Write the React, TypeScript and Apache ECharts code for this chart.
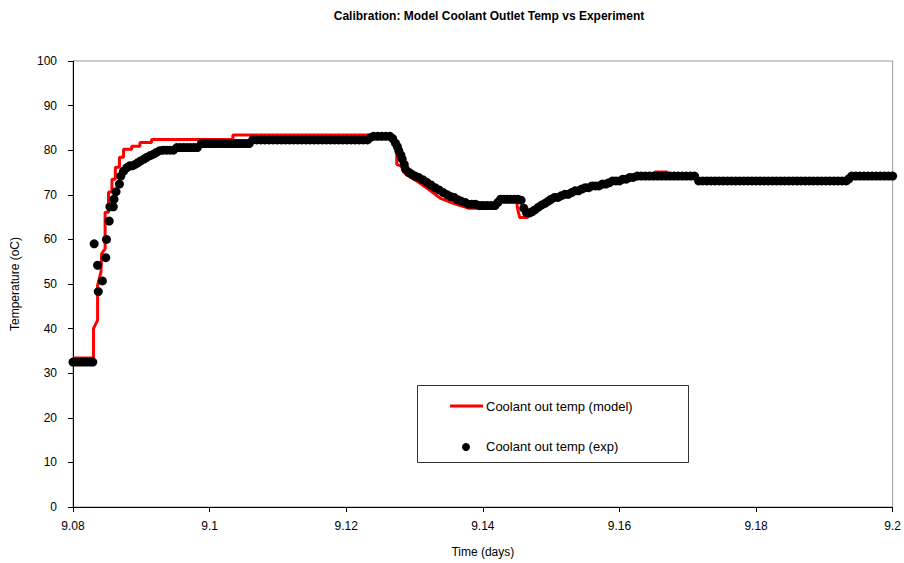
import React, { useEffect, useRef } from "react";
import * as echarts from "echarts";

const TITLE = "Calibration: Model Coolant Outlet Temp vs Experiment";
const X_NAME = "Time (days)";
const Y_NAME = "Temperature (oC)";
const MODEL_NAME = "Coolant out temp (model)";
const EXP_NAME = "Coolant out temp (exp)";

const X_MIN = 9.08;
const X_MAX = 9.2;
const X_STEP = 0.02;
const Y_MIN = 0;
const Y_MAX = 100;
const Y_STEP = 10;

// Model: stepped red line (time in days, temperature in °C)
const modelData: [number, number][] = [
  [9.08, 33.4], [9.083, 33.4], [9.083, 40.0], [9.0836, 41.9], [9.0836, 49.7],
  [9.0841, 52.7], [9.0842, 56.8], [9.0847, 57.9], [9.0847, 66.1], [9.0852, 66.1],
  [9.0852, 70.6], [9.0857, 70.6], [9.0857, 73.5], [9.0862, 73.5], [9.0862, 76.2],
  [9.0868, 76.2], [9.0868, 78.4], [9.0874, 78.4], [9.0874, 80.2], [9.0886, 80.2],
  [9.0886, 80.9], [9.0898, 80.9], [9.0898, 81.7], [9.0915, 81.7], [9.0915, 82.4],
  [9.1034, 82.4], [9.1034, 83.4], [9.1252, 83.4], [9.1262, 83.0], [9.127, 81.3],
  [9.1274, 80.2], [9.1274, 76.8], [9.128, 76.5], [9.1287, 74.6], [9.1306, 72.8],
  [9.1321, 71.2], [9.1338, 69.2], [9.136, 67.9], [9.1379, 67.0], [9.1418, 67.0],
  [9.1423, 69.0], [9.1449, 69.0], [9.1451, 66.8], [9.1454, 64.9], [9.1465, 64.9],
  [9.1471, 66.1], [9.149, 67.9], [9.1515, 69.4], [9.1539, 70.5], [9.1558, 71.6],
  [9.1597, 73.1], [9.1626, 74.2], [9.165, 74.2], [9.1652, 75.1], [9.167, 75.1],
  [9.1672, 74.2], [9.1714, 74.2], [9.1716, 73.1], [9.1937, 73.1], [9.1939, 74.2],
  [9.2, 74.2],
];

// Experiment: measured points (time in days, temperature in °C)
const expData: [number, number][] = [
  [9.08, 32.5], [9.0805, 32.5], [9.081, 32.5], [9.0815, 32.5], [9.082, 32.5], [9.0825, 32.5], [9.0829, 32.5],
  [9.0831, 59.0], [9.0836, 54.2], [9.0837, 48.3], [9.0843, 50.7], [9.0848, 55.9], [9.0849, 60.0],
  [9.0853, 64.1], [9.0854, 67.3], [9.0859, 67.3], [9.086, 69.0], [9.0863, 70.7], [9.0868, 72.4],
  [9.087, 74.2], [9.0874, 75.3], [9.0879, 76.1], [9.0883, 76.5], [9.0887, 76.5], [9.0891, 76.8],
  [9.0895, 77.2], [9.0899, 77.6], [9.0904, 78.0], [9.0908, 78.4], [9.0913, 78.8], [9.0918, 79.1],
  [9.0922, 79.5], [9.0927, 79.9], [9.0932, 80.0], [9.0937, 80.0], [9.0942, 80.0], [9.0947, 80.0],
  [9.0952, 80.6], [9.0957, 80.6], [9.0962, 80.6], [9.0967, 80.6], [9.0972, 80.6], [9.0977, 80.6], [9.0982, 80.6],
  [9.0988, 81.5], [9.0993, 81.5], [9.0998, 81.5], [9.1003, 81.5], [9.1008, 81.5], [9.1013, 81.5],
  [9.1018, 81.5], [9.1023, 81.5], [9.1028, 81.5], [9.1033, 81.5], [9.1038, 81.5], [9.1043, 81.5],
  [9.1048, 81.5], [9.1053, 81.5], [9.1058, 81.5],
  [9.1063, 82.3], [9.1069, 82.3], [9.1075, 82.3], [9.1081, 82.3], [9.1087, 82.3], [9.1093, 82.3],
  [9.1099, 82.3], [9.1105, 82.3], [9.1111, 82.3], [9.1117, 82.3], [9.1123, 82.3], [9.1129, 82.3],
  [9.1135, 82.3], [9.1141, 82.3], [9.1147, 82.3], [9.1153, 82.3], [9.1159, 82.3], [9.1165, 82.3],
  [9.1171, 82.3], [9.1177, 82.3], [9.1183, 82.3], [9.1189, 82.3], [9.1195, 82.3], [9.1201, 82.3],
  [9.1207, 82.3], [9.1213, 82.3], [9.1219, 82.3], [9.1225, 82.3], [9.1231, 82.3],
  [9.1235, 82.8], [9.124, 83.1], [9.1246, 83.1], [9.1252, 83.1], [9.1258, 83.1], [9.1264, 83.1], [9.1268, 82.6],
  [9.1272, 81.6], [9.1275, 80.8], [9.1277, 79.9], [9.128, 78.9], [9.1282, 78.0], [9.1285, 76.8],
  [9.1287, 75.7], [9.1292, 75.0], [9.1296, 74.6],
  [9.1301, 74.2], [9.1306, 73.9], [9.1312, 73.4], [9.1318, 72.8], [9.1324, 72.2], [9.133, 71.6],
  [9.1336, 71.1], [9.1342, 70.5], [9.1348, 70.0], [9.1353, 69.6], [9.1358, 69.4], [9.1363, 68.9],
  [9.1368, 68.6], [9.1374, 68.3], [9.1379, 67.9], [9.1384, 67.9], [9.1389, 67.9], [9.1395, 67.6],
  [9.14, 67.6], [9.1406, 67.6], [9.1412, 67.6], [9.1418, 67.6], [9.1422, 68.3], [9.1426, 69.0],
  [9.1431, 69.0], [9.1436, 69.0], [9.1441, 69.0], [9.1446, 69.0], [9.1451, 69.0], [9.1456, 68.8],
  [9.146, 67.0], [9.1464, 66.0], [9.1468, 65.9], [9.1472, 66.2], [9.1476, 66.6], [9.1481, 67.2],
  [9.1486, 67.7], [9.1491, 68.1], [9.1496, 68.6], [9.15, 69.0], [9.1505, 69.4], [9.151, 69.4],
  [9.1515, 69.8], [9.152, 70.1], [9.1525, 70.1], [9.153, 70.5], [9.1535, 70.9], [9.154, 70.9],
  [9.1545, 71.3], [9.155, 71.6], [9.1555, 71.6], [9.156, 72.0], [9.1565, 72.0], [9.157, 72.0],
  [9.1575, 72.4], [9.158, 72.4], [9.1585, 72.7], [9.159, 73.1], [9.1595, 73.1], [9.16, 73.1],
  [9.1605, 73.5], [9.161, 73.5], [9.1615, 73.9], [9.162, 73.9], [9.1626, 74.2],
  [9.1632, 74.2], [9.1638, 74.2], [9.1644, 74.2], [9.165, 74.2], [9.1656, 74.2], [9.1662, 74.2],
  [9.1668, 74.2], [9.1674, 74.2], [9.168, 74.2], [9.1686, 74.2], [9.1692, 74.2], [9.1698, 74.2],
  [9.1704, 74.2], [9.171, 74.2],
  [9.1716, 73.1], [9.1722, 73.1], [9.1728, 73.1], [9.1734, 73.1], [9.174, 73.1], [9.1746, 73.1],
  [9.1752, 73.1], [9.1758, 73.1], [9.1764, 73.1], [9.177, 73.1], [9.1776, 73.1], [9.1782, 73.1],
  [9.1788, 73.1], [9.1794, 73.1], [9.18, 73.1], [9.1806, 73.1], [9.1812, 73.1], [9.1818, 73.1],
  [9.1824, 73.1], [9.183, 73.1], [9.1836, 73.1], [9.1842, 73.1], [9.1848, 73.1], [9.1854, 73.1],
  [9.186, 73.1], [9.1866, 73.1], [9.1872, 73.1], [9.1878, 73.1], [9.1884, 73.1], [9.189, 73.1],
  [9.1896, 73.1], [9.1902, 73.1], [9.1908, 73.1], [9.1914, 73.1], [9.192, 73.1], [9.1926, 73.1],
  [9.1932, 73.1], [9.1936, 73.6],
  [9.194, 74.2], [9.1946, 74.2], [9.1952, 74.2], [9.1958, 74.2], [9.1964, 74.2], [9.197, 74.2],
  [9.1976, 74.2], [9.1982, 74.2], [9.1988, 74.2], [9.1994, 74.2], [9.2, 74.2],
];

const FONT = "'Liberation Sans', Arial, sans-serif";

export default function App() {
  const ref = useRef<HTMLDivElement>(null);

  useEffect(() => {
    document.body.style.margin = "0";
    document.body.style.overflow = "hidden";
    if (!ref.current) return;
    const chart = echarts.init(ref.current, undefined, { renderer: "svg" });
    chart.setOption({
      animation: false,
      backgroundColor: "#ffffff",
      textStyle: { fontFamily: FONT },
      title: {
        text: TITLE,
        left: 484,
        textAlign: "center",
        top: 5,
        textStyle: { fontFamily: FONT, fontSize: 12, fontWeight: "bold", color: "#000" },
      },
      grid: {
        left: 73,
        right: 8,
        top: 61,
        bottom: 53,
        show: true,
        borderColor: "#999999",
        borderWidth: 1,
        backgroundColor: "transparent",
      },
      xAxis: {
        type: "value",
        min: X_MIN,
        max: X_MAX,
        interval: X_STEP,
        name: X_NAME,
        nameLocation: "middle",
        nameGap: 39,
        nameTextStyle: { fontFamily: FONT, fontSize: 12, color: "#000" },
        axisLine: { show: true, onZero: false, lineStyle: { color: "#000", width: 1 } },
        axisTick: { show: true, length: 5, lineStyle: { color: "#000" } },
        axisLabel: {
          fontFamily: FONT,
          fontSize: 12,
          color: "#000",
          margin: 13,
          formatter: (v: number) => String(parseFloat(v.toFixed(2))),
        },
        splitLine: { show: false },
      },
      yAxis: {
        type: "value",
        min: Y_MIN,
        max: Y_MAX,
        interval: Y_STEP,
        name: Y_NAME,
        nameLocation: "middle",
        nameRotate: 90,
        nameGap: 52,
        nameTextStyle: { fontFamily: FONT, fontSize: 12, color: "#000" },
        axisLine: { show: true, lineStyle: { color: "#000", width: 1 } },
        axisTick: { show: true, length: 5, lineStyle: { color: "#000" } },
        axisLabel: { fontFamily: FONT, fontSize: 12, color: "#000", margin: 16 },
        splitLine: { show: false },
      },
      series: [
        {
          name: MODEL_NAME,
          type: "line",
          data: modelData,
          showSymbol: false,
          symbol: "none",
          lineStyle: { color: "#ff0000", width: 3 },
          itemStyle: { color: "#ff0000" },
          z: 2,
        },
        {
          name: EXP_NAME,
          type: "scatter",
          data: expData,
          symbol: "circle",
          symbolSize: 9,
          itemStyle: { color: "#000000", opacity: 1 },
          z: 3,
        },
      ],
      graphic: [
        {
          type: "rect",
          shape: { x: 417.5, y: 385.5, width: 271, height: 77 },
          style: { fill: "#ffffff", stroke: "#333333", lineWidth: 1 },
          z: 10,
        },
        {
          type: "line",
          shape: { x1: 450, y1: 406, x2: 483, y2: 406 },
          style: { stroke: "#ff0000", lineWidth: 3 },
          z: 11,
        },
        {
          type: "text",
          x: 486,
          y: 406,
          style: { text: MODEL_NAME, fontFamily: FONT, fontSize: 13, fill: "#000", verticalAlign: "middle", align: "left" },
          z: 11,
        },
        {
          type: "circle",
          shape: { cx: 466, cy: 447, r: 4 },
          style: { fill: "#000000" },
          z: 11,
        },
        {
          type: "text",
          x: 486,
          y: 446,
          style: { text: EXP_NAME, fontFamily: FONT, fontSize: 13, fill: "#000", verticalAlign: "middle", align: "left" },
          z: 11,
        },
      ],
    });
    return () => chart.dispose();
  }, []);

  return <div ref={ref} style={{ width: 904, height: 563 }} />;
}
